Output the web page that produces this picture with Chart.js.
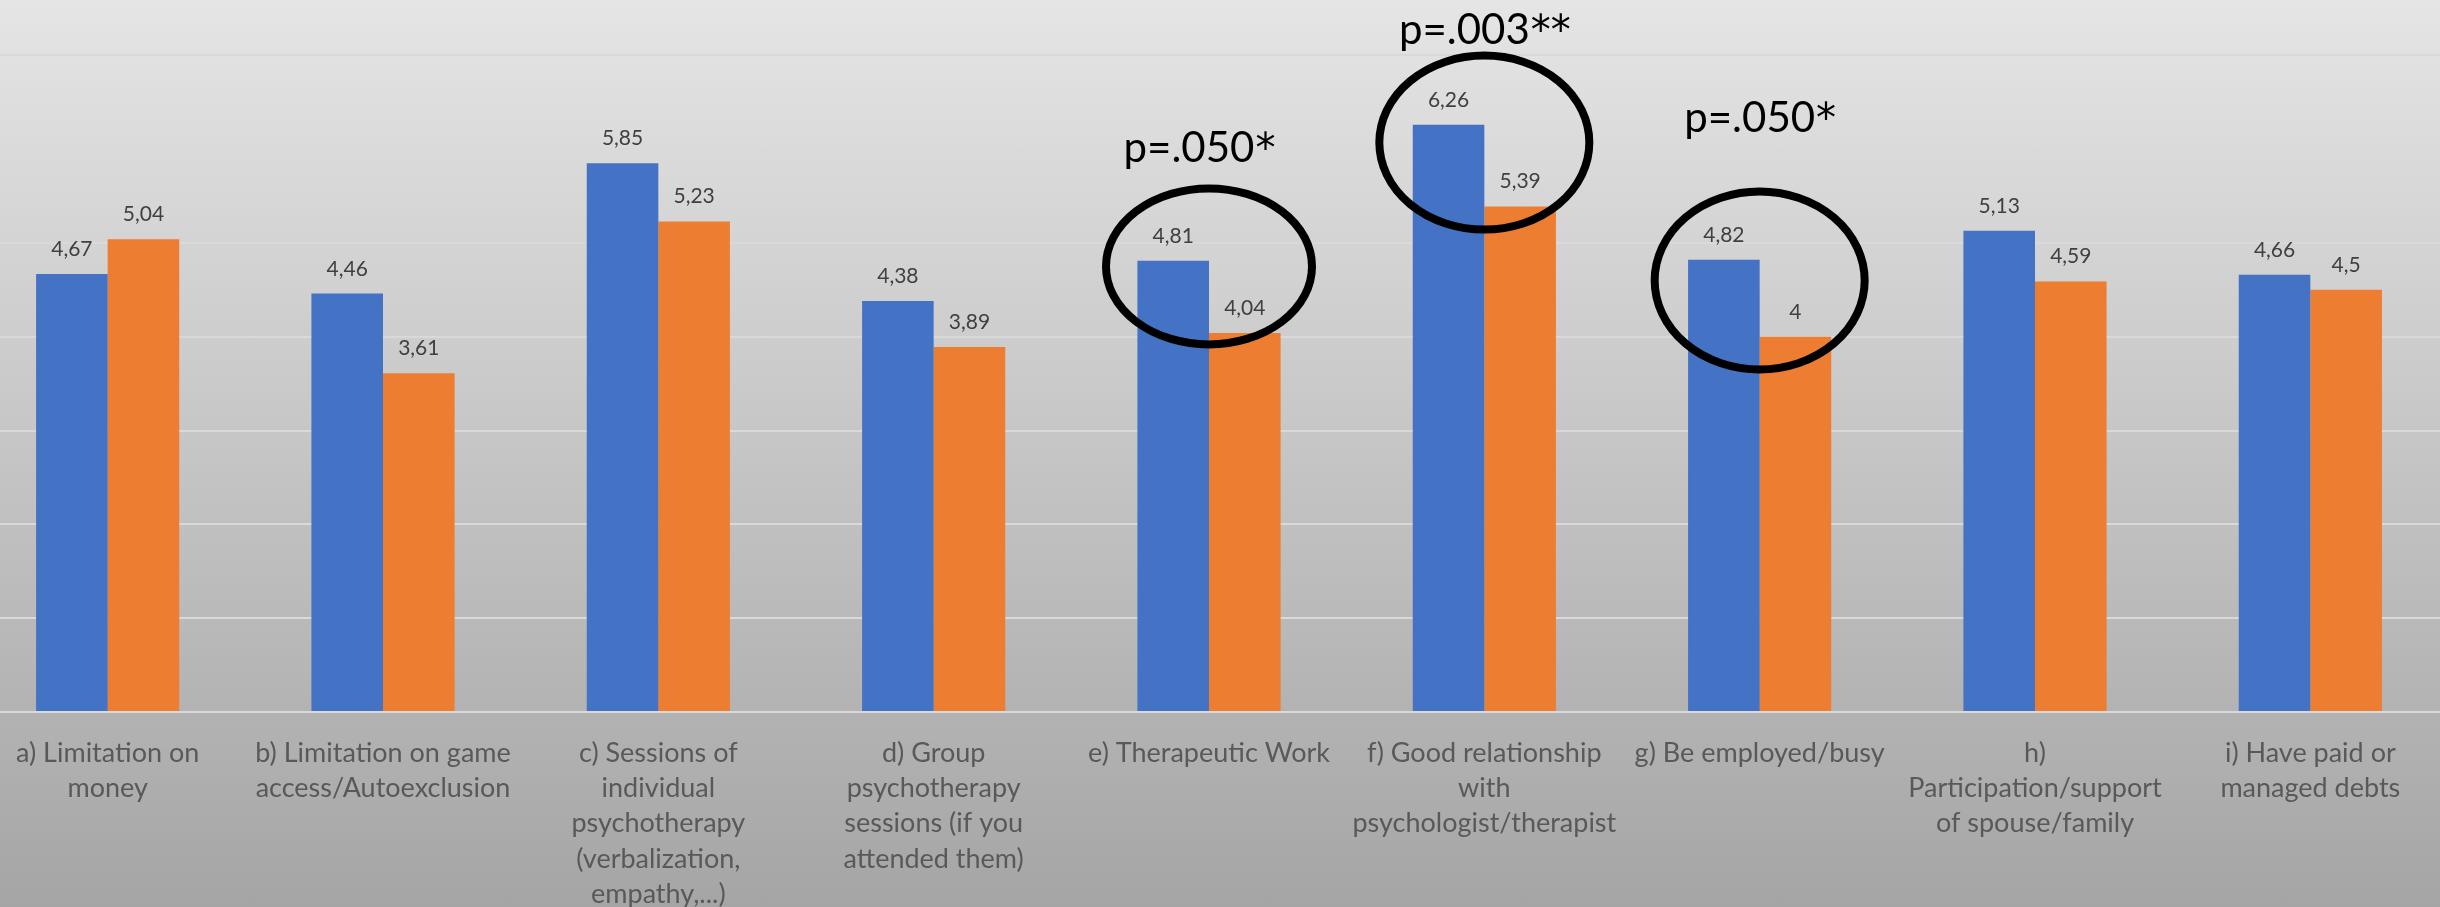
<!DOCTYPE html>
<html>
<head>
<meta charset="utf-8">
<script src="https://cdn.jsdelivr.net/npm/chart.js@4/dist/chart.umd.min.js"></script>
<style>
  html, body { margin: 0; padding: 0; width: 2440px; height: 907px; overflow: hidden; }
  body { background: linear-gradient(to bottom, #e5e5e5 0%, #a5a5a5 100%); position: relative; }
  #wrap { position: absolute; left: -30px; top: 0; width: 2478px; height: 907px; }
</style>
</head>
<body>
<div id="wrap"><canvas id="chart"></canvas></div>
<script>
// Category labels, already broken into lines
const categories = [
  ['a) Limitation on', 'money'],
  ['b) Limitation on game', 'access/Autoexclusion'],
  ['c) Sessions of', 'individual', 'psychotherapy', '(verbalization,', 'empathy,...)'],
  ['d) Group', 'psychotherapy', 'sessions (if you', 'attended them)'],
  ['e) Therapeutic Work'],
  ['f) Good relationship', 'with', 'psychologist/therapist'],
  ['g) Be employed/busy'],
  ['h)', 'Participation/support', 'of spouse/family'],
  ['i) Have paid or', 'managed debts']
];

// Mean scores for the two groups
const seriesA = [4.67, 4.46, 5.85, 4.38, 4.81, 6.26, 4.82, 5.13, 4.66];
const seriesB = [5.04, 3.61, 5.23, 3.89, 4.04, 5.39, 4.00, 4.59, 4.50];

// Value axis gridlines
const yTicks = [0, 1, 2, 3, 4, 5, 6, 7];
const yMax = 7.59;

// Significant differences: category index and p-value text
const sigIndex = [4, 5, 6];
const sigText = ['p=.050*', 'p=.003**', 'p=.050*'];

// Placement of the circles and p-value texts (value-axis units for y, pixels for sizes)
const sigStyle = [
  { circleY: 4.75, rx: 103, ry: 78, textY: 5.86, textDx: -10 },
  { circleY: 6.07, rx: 105, ry: 87, textY: 7.12, textDx: 0 },
  { circleY: 4.60, rx: 105, ry: 89, textY: 6.18, textDx: 0 }
];

const fmt = v => String(v).replace('.', ',');

const valueLabels = {
  id: 'valueLabels',
  afterDatasetsDraw(chart) {
    const ctx = chart.ctx;
    ctx.save();
    ctx.font = '21px Lato';
    ctx.fillStyle = '#404040';
    ctx.textAlign = 'center';
    ctx.textBaseline = 'alphabetic';
    chart.data.datasets.forEach((ds, di) => {
      chart.getDatasetMeta(di).data.forEach((bar, i) => {
        ctx.fillText(fmt(ds.data[i]), bar.x, bar.y - 18);
      });
    });
    ctx.restore();
  }
};

// Draws "p=..." in Lato and the trailing asterisks in a font with a larger star
function drawPText(ctx, text, cx, baseline) {
  const m = text.match(/^([^*]*)(\**)$/);
  const head = m[1], stars = m[2];
  const headFont = '42px Lato', starFont = '40px "DejaVu Sans"';
  ctx.font = headFont;
  const wHead = ctx.measureText(head).width;
  ctx.font = starFont;
  const wStars = ctx.measureText(stars).width;
  let x = cx - (wHead + wStars) / 2;
  ctx.textAlign = 'left';
  ctx.textBaseline = 'alphabetic';
  ctx.fillStyle = '#000000';
  ctx.font = headFont;
  ctx.fillText(head, x, baseline);
  ctx.font = starFont;
  ctx.fillText(stars, x + wHead + 1, baseline);
}

const significance = {
  id: 'significance',
  afterDraw(chart) {
    const ctx = chart.ctx;
    const xs = chart.scales.x, ys = chart.scales.y;
    ctx.save();
    sigIndex.forEach((idx, k) => {
      const st = sigStyle[k];
      const cx = xs.getPixelForValue(idx);
      ctx.beginPath();
      ctx.ellipse(cx, ys.getPixelForValue(st.circleY), st.rx, st.ry, 0, 0, Math.PI * 2);
      ctx.lineWidth = 8;
      ctx.strokeStyle = '#000000';
      ctx.stroke();
      drawPText(ctx, sigText[k], cx + st.textDx, ys.getPixelForValue(st.textY));
    });
    ctx.restore();
  }
};

new Chart(document.getElementById('chart'), {
  type: 'bar',
  data: {
    labels: categories,
    datasets: [
      { label: 'Group 1', data: seriesA, backgroundColor: '#4472C4', categoryPercentage: 0.52, barPercentage: 1 },
      { label: 'Group 2', data: seriesB, backgroundColor: '#ED7D31', categoryPercentage: 0.52, barPercentage: 1 }
    ]
  },
  options: {
    responsive: true,
    maintainAspectRatio: false,
    animation: false,
    layout: { padding: 0 },
    plugins: { legend: { display: false }, tooltip: { enabled: false } },
    scales: {
      x: {
        grid: { display: false, drawTicks: false },
        border: { display: false },
        ticks: {
          autoSkip: false, maxRotation: 0, minRotation: 0,
          color: '#595959',
          font: { family: 'Lato', size: 27, lineHeight: 1.3 },
          padding: 24
        },
        afterFit(scale) { scale.height = 195; }
      },
      y: {
        min: 0, max: yMax,
        grid: { color: '#d9d9d9', lineWidth: 2, drawTicks: false },
        border: { display: false },
        ticks: { display: false },
        afterBuildTicks(scale) { scale.ticks = yTicks.map(v => ({ value: v })); }
      }
    }
  },
  plugins: [valueLabels, significance]
});
</script>
</body>
</html>
